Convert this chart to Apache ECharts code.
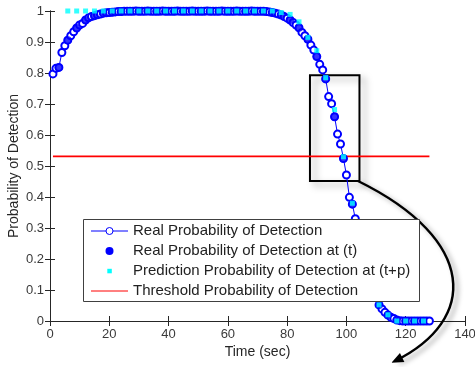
<!DOCTYPE html>
<html>
<head>
<meta charset="utf-8">
<script src="https://cdn.jsdelivr.net/npm/echarts@6/dist/echarts.min.js"></script>
<style>
html,body{margin:0;padding:0;background:#fff;}
#chart{width:475px;height:367px;}
</style>
</head>
<body>
<div id="chart"></div>
<script>
// ---- Data ----
const realTime = [1,2,3,4,5,6,7,8,9,10,11,12,13,14,15,16,17,18,19,20,21,22,23,24,25,26,27,28,29,30,31,32,33,34,35,36,37,38,39,40,41,42,43,44,45,46,47,48,49,50,51,52,53,54,55,56,57,58,59,60,61,62,63,64,65,66,67,68,69,70,71,72,73,74,75,76,77,78,79,80,81,82,83,84,85,86,87,88,89,90,91,92,93,94,95,96,97,98,99,100,101,102,103,104,105,106,107,108,109,110,111,112,113,114,115,116,117,118,119,120,121,122,123,124,125,126,127,128];
const realProb = [
  0.797,0.815,0.818,0.866,0.888,0.906,0.920,0.933,0.945,0.955,0.960,0.971,0.978,0.982,0.985,0.988,0.990,0.993,0.994,0.995,0.996,0.997,0.998,0.998,
  0.999,0.999,0.999,0.999,1.000,0.999,0.999,0.999,1.000,0.999,0.999,0.999,0.999,1.000,0.999,0.999,0.999,0.999,1.000,0.999,0.999,0.999,0.999,1.000,
  0.999,0.999,0.999,0.999,1.000,0.999,0.999,0.999,0.999,1.000,0.999,0.999,0.999,0.999,1.000,0.999,0.999,0.999,0.999,1.000,0.999,0.999,0.999,0.999,
  0.998,0.997,0.995,0.993,0.990,0.987,0.982,0.977,0.971,0.963,0.955,0.946,0.931,0.920,0.909,0.890,0.874,0.853,0.828,0.810,0.781,0.724,0.701,0.659,
  0.603,0.571,0.524,0.471,0.399,0.377,0.330,0.290,0.250,0.210,0.175,0.140,0.110,0.080,0.052,0.039,0.028,0.019,0.012,0.008,0.003,0.001,
  0,0,0,0,0,0,0,0,0,0
];
const sampleTime = [3,6,9,12,15,18,21,24,27,30,33,36,39,42,45,48,51,54,57,60,63,66,69,72,75,78,81,84,87,90,93,96,99,102,105,108,111,114,117,120,123,126];
const sampleProb = [0.818,0.906,0.945,0.971,0.985,0.993,0.996,0.998,0.999,0.999,0.999,0.999,0.999,0.999,0.999,0.999,0.999,0.999,0.999,0.999,0.999,0.999,0.999,0.999,
  0.995,0.987,0.971,0.946,0.909,0.853,0.781,0.659,0.524,0.377,0.250,0.140,0.052,0.019,0.003,0,0,0];
const predTime = [6,9,12,15,18,21,24,27,30,33,36,39,42,45,48,51,54,57,60,63,66,69,72,75,78,81,84,87,90,93,96,99,102,105,108,111,114,117,120,123,126];
const predProb = [1,1,1,1,1,1,1,1,1,1,1,1,1,1,1,1,1,1,1,1,1,1,1,1,
  0.995,0.989,0.965,0.915,0.872,0.785,0.682,0.530,0.380,0.260,0.150,0.052,0.020,0,0,0,0];
const thresholdTime = [1,128];
const thresholdProb = [0.531,0.531];
const zoomBox = [[87.7,0.793],[104.4,0.452]];
const xTicks = {min:0,max:140,interval:20};
const yTicks = {min:0,max:1,interval:0.1};
const legendNames = ['Real Probability of Detection','Real Probability of Detection at (t)','Prediction Probability of Detection at (t+p)','Threshold Probability of Detection'];

const zip = (a,b) => a.map((v,i)=>[v,b[i]]);
const FONT = '"Liberation Sans", Arial, sans-serif';
const AX = '#262626';

const chart = echarts.init(document.getElementById('chart'), null, {renderer:'canvas'});

const axisCommon = {
  axisLine:{show:true,lineStyle:{color:AX,width:1}},
  axisTick:{show:true,inside:true,length:5,lineStyle:{color:AX}},
  splitLine:{show:false}
};

const option = {
  animation:false,
  backgroundColor:'#fff',
  grid:{left:50,right:10,top:11,bottom:46,containLabel:false,outerBoundsMode:'none'},
  xAxis:[
    Object.assign({type:'value',min:xTicks.min,max:xTicks.max,interval:xTicks.interval,position:'bottom',
      name:'Time (sec)',nameLocation:'middle',nameGap:24,nameMoveOverlap:false,
      nameTextStyle:{fontFamily:FONT,fontSize:14,color:'#262626'},
      axisLabel:{fontFamily:FONT,fontSize:13,color:'#3a3a3a',margin:7}},axisCommon),
    Object.assign({type:'value',min:xTicks.min,max:xTicks.max,interval:xTicks.interval,position:'top',
      axisLabel:{show:false}},axisCommon)
  ],
  yAxis:[
    Object.assign({type:'value',min:yTicks.min,max:yTicks.max,interval:yTicks.interval,position:'left',
      name:'Probability of Detection',nameLocation:'middle',nameGap:29,nameRotate:90,nameMoveOverlap:false,
      nameTextStyle:{fontFamily:FONT,fontSize:14,color:'#262626'},
      axisLabel:{fontFamily:FONT,fontSize:13,color:'#3a3a3a',margin:6}},axisCommon),
    Object.assign({type:'value',min:yTicks.min,max:yTicks.max,interval:yTicks.interval,position:'right',
      axisLabel:{show:false}},axisCommon)
  ],
  series:[
    {
      name:legendNames[3],type:'line',data:zip(thresholdTime,thresholdProb),
      symbol:'none',lineStyle:{color:'#ff0000',width:1.6},itemStyle:{color:'#ff0000'},z:1,
      markArea:{silent:true,
        itemStyle:{color:'rgba(0,0,0,0)',borderColor:'#000',borderWidth:2,
          shadowBlur:7,shadowColor:'rgba(0,0,0,0.35)',shadowOffsetX:5,shadowOffsetY:4},
        data:[[{coord:zoomBox[0]},{coord:zoomBox[1]}]]}
    },
    {
      name:legendNames[0],type:'line',data:zip(realTime,realProb),
      symbol:'emptyCircle',symbolSize:7,showAllSymbol:true,
      lineStyle:{color:'#0000ff',width:1},
      itemStyle:{color:'#0000ff',borderColor:'#0000ff',borderWidth:1},z:3
    },
    {
      name:legendNames[1],type:'scatter',data:zip(sampleTime,sampleProb),
      symbol:'circle',symbolSize:8,itemStyle:{color:'#0000ff'},z:4
    },
    {
      name:legendNames[2],type:'scatter',data:zip(predTime,predProb),
      symbol:'rect',symbolSize:5,itemStyle:{color:'#00ffff'},z:5
    }
  ],
  graphic:[]
};
chart.setOption(option);

// Legend (drawn as a boxed legend like the original)
const lx=83.5, ly=219.5, lw=336, lh=82;
const rows=[231,251,271,291];
const g=[];
g.push({type:'rect',z:20,shape:{x:lx,y:ly,width:lw,height:lh},style:{fill:'#fff',stroke:'#404040',lineWidth:1}});
g.push({type:'line',z:21,shape:{x1:91,y1:rows[0],x2:128,y2:rows[0]},style:{stroke:'#0000ff',lineWidth:1}});
g.push({type:'circle',z:22,shape:{cx:109.5,cy:rows[0],r:3.5},style:{stroke:'#0000ff',fill:'#fff',lineWidth:1}});
g.push({type:'circle',z:22,shape:{cx:109.5,cy:rows[1],r:4},style:{fill:'#0000ff'}});
g.push({type:'rect',z:22,shape:{x:107.3,y:rows[2]-2.2,width:4.5,height:4.5},style:{fill:'#00ffff'}});
g.push({type:'line',z:21,shape:{x1:91,y1:rows[3],x2:128,y2:rows[3]},style:{stroke:'#ff0000',lineWidth:1}});
legendNames.forEach((n,i)=>{
  g.push({type:'text',z:22,x:133,y:rows[i],style:{text:n,font:'15px '+FONT,fill:'#222',verticalAlign:'middle',align:'left'}});
});
// Curved arrow from the zoom box
const P0=[358,181],P1=[478,240],P2=[478,320],P3=[395,361];
g.push({type:'bezierCurve',z:15,shape:{x1:P0[0],y1:P0[1],cpx1:P1[0],cpy1:P1[1],cpx2:P2[0],cpy2:P2[1],x2:P3[0],y2:P3[1]},
  style:{stroke:'#000',lineWidth:2.5,fill:null,shadowBlur:5,shadowColor:'rgba(0,0,0,0.35)',shadowOffsetX:4,shadowOffsetY:3}});
const dx=P3[0]-P2[0], dy=P3[1]-P2[1], L=Math.hypot(dx,dy), ux=dx/L, uy=dy/L;
const tip=[P3[0]+4*ux,P3[1]+4*uy], bc=[tip[0]-12*ux,tip[1]-12*uy], px=-uy, py=ux;
g.push({type:'polygon',z:16,shape:{points:[tip,[bc[0]+5*px,bc[1]+5*py],[bc[0]-5*px,bc[1]-5*py]]},style:{fill:'#000'}});
chart.setOption({graphic:g});
</script>
</body>
</html>
